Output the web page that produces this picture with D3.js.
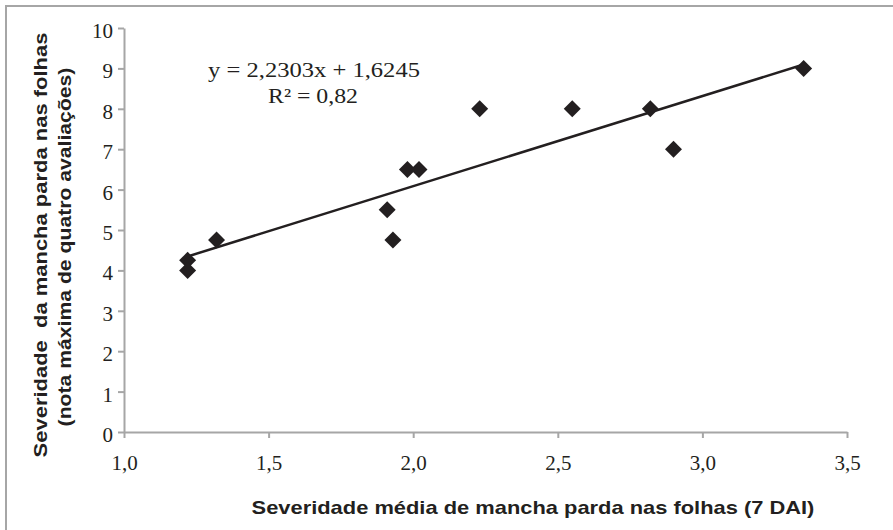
<!DOCTYPE html>
<html>
<head>
<meta charset="utf-8">
<script src="https://cdn.jsdelivr.net/npm/d3@7"></script>
<style>
body { margin: 0; background: #fff; }
.tick text { font-family: "Liberation Serif"; }
</style>
</head>
<body>
<div id="chart"></div>
<script>
// severidade media (7 DAI) x nota maxima
var xValues = [1.22, 1.22, 1.32, 1.91, 1.93, 1.98, 2.02, 2.23, 2.55, 2.82, 2.90, 3.35];
var yValues = [4.25, 4.0, 4.75, 5.5, 4.75, 6.5, 6.5, 8.0, 8.0, 8.0, 7.0, 9.0];
var xTicks = [1.0, 1.5, 2.0, 2.5, 3.0, 3.5];
var yTicks = [0, 1, 2, 3, 4, 5, 6, 7, 8, 9, 10];
var slope = 2.2303, intercept = 1.6245;
var eqLines = ["y = 2,2303x + 1,6245", "R² = 0,82"];

var width = 893, height = 530;
var serif = "Liberation Serif", sans = "Liberation Sans";
var ink = "#231f20", gray = "#a6a6a6";

var svg = d3.select("#chart").append("svg")
    .attr("width", width)
    .attr("height", height);

// frame (only top and left are visible)
svg.append("path")
    .attr("d", "M6,530 L6,6 L893,6")
    .attr("fill", "none")
    .attr("stroke", gray)
    .attr("stroke-width", 2);

var x = d3.scaleLinear().domain([1, 3.5]).range([124, 847]);
var y = d3.scaleLinear().domain([0, 10]).range([432, 28]);

var fmt = function(d) { return d3.format(".1f")(d).replace(".", ","); };

var xAxis = svg.append("g")
    .attr("transform", "translate(0,432)")
    .call(d3.axisBottom(x).tickValues(xTicks).tickFormat(fmt).tickSize(6).tickPadding(17).tickSizeOuter(0));
var yAxis = svg.append("g")
    .attr("transform", "translate(124,0)")
    .call(d3.axisLeft(y).tickValues(yTicks).tickSize(6).tickPadding(5).tickSizeOuter(0));
yAxis.selectAll(".tick text").attr("dy", "0.45em");

[xAxis, yAxis].forEach(function(a) {
  a.attr("font-family", serif).attr("font-size", 21);
  a.select(".domain").attr("stroke", gray).attr("stroke-width", 2);
  a.selectAll(".tick line").attr("stroke", gray).attr("stroke-width", 2);
  a.selectAll(".tick text")
    .attr("fill", ink)
    .attr("font-family", serif)
    .style("font-size", "21px");
});

// trend line
var xMin = d3.min(xValues), xMax = d3.max(xValues);
svg.append("line")
    .attr("x1", x(xMin)).attr("y1", y(slope * xMin + intercept))
    .attr("x2", x(xMax)).attr("y2", y(slope * xMax + intercept))
    .attr("stroke", ink)
    .attr("stroke-width", 2.5);

// points
svg.selectAll(".pt")
    .data(xValues)
    .enter()
    .append("path")
    .attr("class", "pt")
    .attr("d", d3.symbol().type(d3.symbolDiamond2).size(184))
    .attr("transform", function(d, i) { return "translate(" + x(d) + "," + y(yValues[i]) + ")"; })
    .attr("fill", ink);

// text placed at (cx,cy), stretched horizontally to reach a target length
function label(txt, cx, cy, rot, len, fam, size, bold) {
  var g = svg.append("g");
  var t = g.append("text")
      .attr("text-anchor", "middle")
      .attr("fill", ink)
      .style("font-family", fam)
      .style("font-size", size + "px")
      .style("font-weight", bold ? "bold" : "normal")
      .text(txt);
  var k = len / t.node().getComputedTextLength();
  g.attr("transform", "translate(" + cx + "," + cy + ") rotate(" + rot + ") scale(" + k + ",1)");
}

// equation
label(eqLines[0], 314, 77, 0, 212, serif, 22, false);
label(eqLines[1], 313, 103, 0, 90, serif, 22, false);

// axis titles
label("Severidade média de mancha parda nas folhas (7 DAI)", 533, 514, 0, 563, sans, 19, true);
label("Severidade\u00a0 da mancha parda nas folhas", 47, 245, -90, 425, sans, 19, true);
label("(nota máxima de quatro avaliações)", 71, 247, -90, 359, sans, 19, true);
</script>
</body>
</html>
